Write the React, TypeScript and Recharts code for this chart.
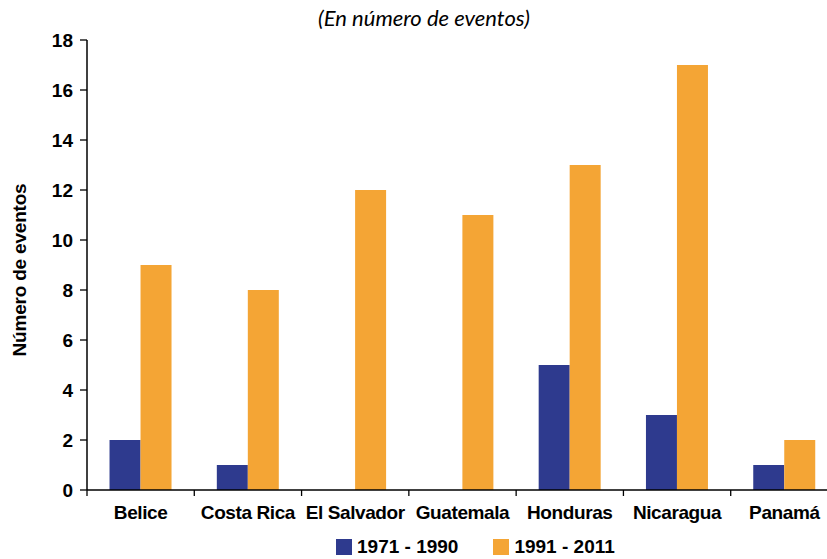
import React from "react";
import { BarChart, Bar, XAxis, YAxis, Legend } from "recharts";

const categories = ["Belice", "Costa Rica", "El Salvador", "Guatemala", "Honduras", "Nicaragua", "Panamá"];
const events1971 = [2, 1, 0, 0, 5, 3, 1];
const events1991 = [9, 8, 12, 11, 13, 17, 2];
const seriesNames = ["1971 - 1990", "1991 - 2011"];
const yTicks = [0, 2, 4, 6, 8, 10, 12, 14, 16, 18];

const data = categories.map((name, i) => ({
  name,
  p1: events1971[i],
  p2: events1991[i],
}));

const CHART_W = 838;
const CHART_H = 559;
const AXIS_W = 87;
const PLOT_W = CHART_W - AXIS_W;
const font = "'Liberation Sans', Arial, Helvetica, sans-serif";

const CategoryTick = (props: any) => {
  const { x, y, payload } = props;
  const band = PLOT_W / categories.length;
  return (
    <g>
      <line x1={x - band / 2} y1={y} x2={x - band / 2} y2={y + 6} stroke="#000" strokeWidth={1.3} />
      <text x={x} y={y + 29} textAnchor="middle" fontFamily={font} fontSize={19} fontWeight="bold" letterSpacing={-0.4} fill="#000">
        {payload.value}
      </text>
    </g>
  );
};

const LegendBox = (props: any) => {
  const { payload } = props;
  return (
    <div style={{ display: "flex", alignItems: "center", fontFamily: font, fontSize: 19, lineHeight: "20px", fontWeight: "bold", color: "#000", whiteSpace: "nowrap" }}>
      {(payload || []).map((entry: any, i: number) => (
        <div key={i} style={{ display: "flex", alignItems: "center", marginRight: 35 }}>
          <span style={{ display: "inline-block", width: 16, height: 16, background: entry.color, marginRight: 5 }} />
          <span>{entry.value}</span>
        </div>
      ))}
    </div>
  );
};

export default function App() {
  return (
    <div style={{ position: "relative", width: 827, height: CHART_H, overflow: "hidden", background: "#fff" }}>
      <style>{"html, body { margin: 0; padding: 0; overflow: hidden; }"}</style>
      <div style={{ position: "absolute", top: 6, left: 0, width: 848, textAlign: "center", fontFamily: "Lato, 'Open Sans', sans-serif", fontStyle: "italic", fontSize: 22, lineHeight: "24px", color: "#000" }}>
        (En número de eventos)
      </div>
      <BarChart width={CHART_W} height={CHART_H} data={data} margin={{ top: 40, right: 0, left: 0, bottom: 0 }} barCategoryGap="21%" barGap={0}>
        <XAxis
          dataKey="name"
          height={69}
          axisLine={{ stroke: "#000", strokeWidth: 1.5 }}
          tickLine={false}
          tickSize={0}
          tickMargin={0}
          interval={0}
          tick={<CategoryTick />}
        />
        <YAxis
          width={AXIS_W}
          domain={[0, 18]}
          ticks={yTicks}
          interval={0}
          axisLine={{ stroke: "#000", strokeWidth: 1.5 }}
          tickLine={{ stroke: "#000", strokeWidth: 1.3 }}
          tickSize={7}
          tickMargin={7}
          tick={{ fill: "#000", fontFamily: font, fontSize: 19, fontWeight: "bold" }}
          label={{ value: "Número de eventos", angle: -90, position: "center", dx: -24, dy: 5, fill: "#000", fontFamily: font, fontSize: 19, fontWeight: "bold", letterSpacing: -0.2 }}
        />
        <Legend
          verticalAlign="middle"
          content={<LegendBox />}
          wrapperStyle={{ left: 336, top: 537, width: 400, height: 20 }}
        />
        <Bar dataKey="p1" name={seriesNames[0]} fill="#2E3A8E" isAnimationActive={false} />
        <Bar dataKey="p2" name={seriesNames[1]} fill="#F4A535" isAnimationActive={false} />
      </BarChart>
    </div>
  );
}
